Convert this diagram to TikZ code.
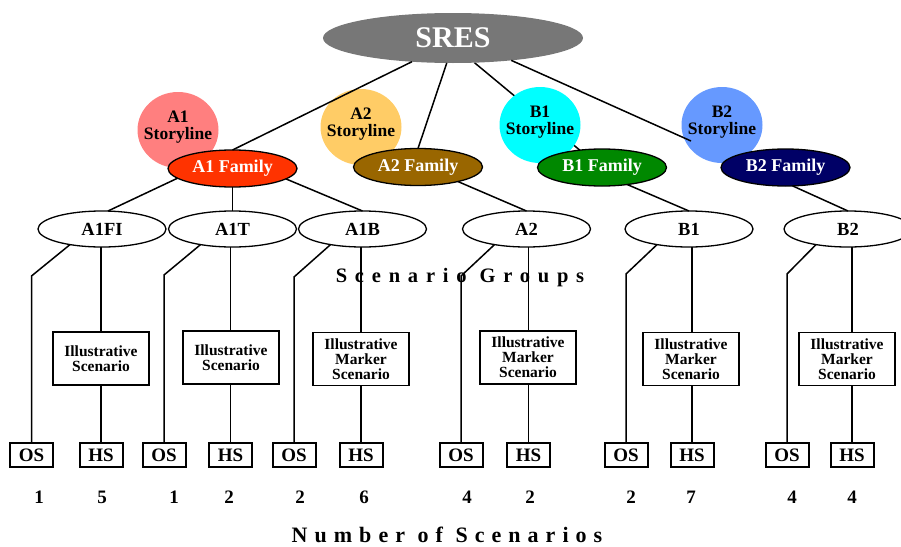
\documentclass[tikz,border=0pt]{standalone}
\usepackage{fontspec}
\setmainfont{Liberation Serif}
\newfontfamily\widegroups[LetterSpace=38]{Liberation Serif}
\newfontfamily\widecount[LetterSpace=32]{Liberation Serif}
\usetikzlibrary{shapes.geometric,backgrounds,calc}

\definecolor{sresgray}{HTML}{777777}
\definecolor{aonelight}{HTML}{FF7F7F}
\definecolor{atwolight}{HTML}{FFCC66}
\definecolor{bonelight}{HTML}{00FFFF}
\definecolor{btwolight}{HTML}{6699FF}
\definecolor{aonefam}{HTML}{FF3300}
\definecolor{atwofam}{HTML}{996600}
\definecolor{bonefam}{HTML}{008800}
\definecolor{btwofam}{HTML}{000066}

\begin{document}
\begin{tikzpicture}[x=1pt,y=-1pt,
  every node/.style={inner sep=0pt,outer sep=0pt},
  link/.style={line width=1.5pt},
  sresnode/.style={ellipse,fill=sresgray,minimum width=260pt,minimum height=50pt,
    text=white,font=\fontsize{30}{30}\selectfont\bfseries},
  storydisc/.style={ellipse,minimum width=81pt,minimum height=76pt},
  storytext/.style={align=center,font=\fontsize{17.5}{17}\selectfont\bfseries},
  famnode/.style={ellipse,draw=black,line width=1.3pt,minimum width=129pt,
    minimum height=37pt,text=white,font=\fontsize{18}{18}\selectfont\bfseries},
  grpnode/.style={ellipse,draw=black,line width=1.3pt,fill=white,minimum width=128pt,
    minimum height=36pt,font=\fontsize{18.5}{18}\selectfont\bfseries},
  illbox/.style={rectangle,draw=black,line width=1.4pt,fill=white,minimum width=96pt,
    minimum height=53pt,align=center,font=\fontsize{15.5}{15}\selectfont\bfseries},
  tagbox/.style={rectangle,draw=black,line width=2pt,fill=white,minimum width=43pt,
    minimum height=24pt,font=\fontsize{19}{19}\selectfont\bfseries},
  countnum/.style={font=\fontsize{19}{19}\selectfont\bfseries},
  caption/.style={font=\bfseries}
]
\useasboundingbox (0,0) rectangle (901,546);
\clip (0,0) rectangle (901,546);

% storyline discs and their labels
\node[storydisc,fill=aonelight] (A1story) at (178,130) {};
\node[storydisc,fill=atwolight] (A2story) at (361,127) {};
\node[storydisc,fill=bonelight] (B1story) at (540,125) {};
\node[storydisc,fill=btwolight] (B2story) at (722,125) {};
\node[storytext] (A1storytxt) at (178,127) {A1\\Storyline};
\node[storytext] (A2storytxt) at (361,124) {A2\\Storyline};
\node[storytext] (B1storytxt) at (540,122) {B1\\Storyline};
\node[storytext] (B2storytxt) at (722,122) {B2\\Storyline};

% root
\node[sresnode] (sres) at (453,38) {SRES};

% families
\node[famnode,fill=aonefam] (A1fam) at (232.5,168.5) {A1 Family};
\node[famnode,fill=atwofam] (A2fam) at (418,167) {A2 Family};
\node[famnode,fill=bonefam] (B1fam) at (602,167.5) {B1 Family};
\node[famnode,fill=btwofam] (B2fam) at (785.5,167.5) {B2 Family};

% scenario groups
\node[grpnode] (gA1FI) at (102,229) {A1FI};
\node[grpnode] (gA1T) at (232.5,229) {A1T};
\node[grpnode] (gA1B) at (362.5,229) {A1B};
\node[grpnode] (gA2) at (526.5,229) {A2};
\node[grpnode] (gB1) at (689,229) {B1};
\node[grpnode] (gB2) at (848,229) {B2};

% illustrative scenario boxes
\node[illbox] (ill1) at (101,358.5) {Illustrative\\Scenario};
\node[illbox] (ill2) at (231,357.5) {Illustrative\\Scenario};
\node[illbox] (ill3) at (361,359) {Illustrative\\Marker\\Scenario};
\node[illbox] (ill4) at (528,357.5) {Illustrative\\Marker\\Scenario};
\node[illbox] (ill5) at (691,359) {Illustrative\\Marker\\Scenario};
\node[illbox] (ill6) at (847,359) {Illustrative\\Marker\\Scenario};

% OS / HS boxes
\node[tagbox] (os1) at (31.5,455) {OS};
\node[tagbox] (hs1) at (101,455) {HS};
\node[tagbox] (os2) at (164,455) {OS};
\node[tagbox] (hs2) at (230.5,455) {HS};
\node[tagbox] (os3) at (294,455) {OS};
\node[tagbox] (hs3) at (361,455) {HS};
\node[tagbox] (os4) at (461,455) {OS};
\node[tagbox] (hs4) at (528.5,455) {HS};
\node[tagbox] (os5) at (626,455) {OS};
\node[tagbox] (hs5) at (692,455) {HS};
\node[tagbox] (os6) at (787,455) {OS};
\node[tagbox] (hs6) at (852,455) {HS};

% counts
\node[countnum] (n1) at (39,497) {1};
\node[countnum] (n2) at (102,497) {5};
\node[countnum] (n3) at (174,497) {1};
\node[countnum] (n4) at (229,497) {2};
\node[countnum] (n5) at (300,497) {2};
\node[countnum] (n6) at (364,497) {6};
\node[countnum] (n7) at (467,497) {4};
\node[countnum] (n8) at (530,497) {2};
\node[countnum] (n9) at (631,497) {2};
\node[countnum] (n10) at (691,497) {7};
\node[countnum] (n11) at (792,497) {4};
\node[countnum] (n12) at (852,497) {4};

\node[caption,anchor=base,font=\widecount\fontsize{22}{22}\selectfont\bfseries] (numcap) at (447,542) {Number of Scenarios};

% elbows of the OS branches
\coordinate (k1) at (31.5,276);
\coordinate (k2) at (164,275);
\coordinate (k3) at (294,277);
\coordinate (k4) at (461,276);
\coordinate (k5) at (626,274);
\coordinate (k6) at (787,274);
\coordinate (b2end) at (691,141);

\begin{pgfonlayer}{background}
  \node[caption,anchor=base,font=\widegroups\fontsize{20.5}{20}\selectfont\bfseries] (grpcap) at (460,282) {Scenario Groups};
  \draw[link] (sres.311.8) -- (B1fam.142);
\end{pgfonlayer}

% root to families
\draw[link] (sres.210.8) -- (A1fam.north);
\draw[link] (sres.256.5) -- (A2fam.north);
\draw[link] (sres.339.7) -- (b2end);

% families to groups
\draw[link] (A1fam.190) -- (gA1FI.72);
\draw[link] (A1fam.south) -- (gA1T.north);
\draw[link] (A1fam.349.3) -- (gA1B.north);
\draw[link] (A2fam.340.4) -- (gA2.north);
\draw[link] (B1fam.326) -- (gB1.north);
\draw[link] (B2fam.291) -- (gB2.north);

% groups to OS boxes
\draw[link] (gA1FI.206) -- (k1) -- (os1.north);
\draw[link] (gA1T.206) -- (k2) -- (os2.north);
\draw[link] (gA1B.206) -- (k3) -- (os3.north);
\draw[link] (gA2.206) -- (k4) -- (os4.north);
\draw[link] (gB1.206) -- (k5) -- (os5.north);
\draw[link] (gB2.206) -- (k6) -- (os6.north);

% groups through illustrative boxes to HS boxes
\foreach \g/\i/\h in {gA1FI/ill1/hs1,gA1T/ill2/hs2,gA1B/ill3/hs3,gA2/ill4/hs4,gB1/ill5/hs5,gB2/ill6/hs6}{
  \draw[link] (\g.south -| \h.north) -- (\h.north |- \i.north);
  \draw[link] (\h.north |- \i.south) -- (\h.north);
}
\end{tikzpicture}
\end{document}
